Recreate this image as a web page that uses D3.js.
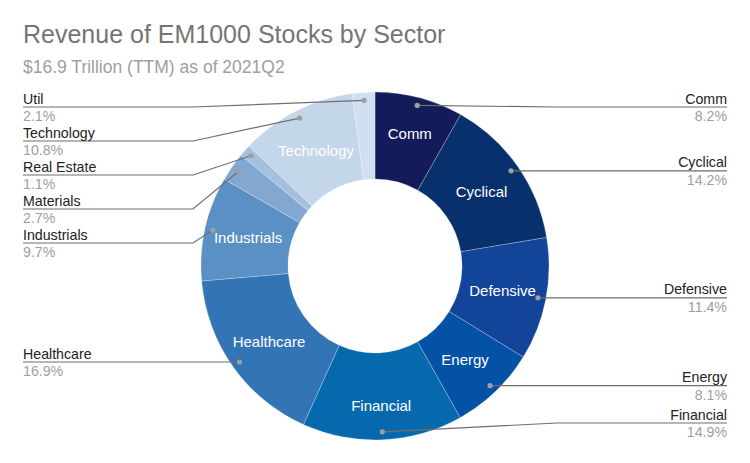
<!DOCTYPE html>
<html><head><meta charset="utf-8">
<script src="https://cdn.jsdelivr.net/npm/d3@7"></script>
<style>body{margin:0;background:#fff}svg{display:block;font-family:"Liberation Sans",Arial,sans-serif}</style>
</head><body><svg id="c" width="750" height="463"></svg>
<script>
const sectors = ["Comm","Cyclical","Defensive","Energy","Financial","Healthcare","Industrials","Materials","Real Estate","Technology","Util"];
const shares = [8.2,14.2,11.4,8.1,14.9,16.9,9.7,2.7,1.1,10.8,2.1];
const pctLabels = ["8.2%","14.2%","11.4%","8.1%","14.9%","16.9%","9.7%","2.7%","1.1%","10.8%","2.1%"];
const colors = ["#131b5b","#08306d","#12449a","#0452a6","#0769ad","#3274b4","#5b90c5","#82a8d2","#a5c0df","#c3d6ea","#d1dff0"];
const title = "Revenue of EM1000 Stocks by Sector";
const subtitle = "$16.9 Trillion (TTM) as of 2021Q2";

const svg = d3.select("#c");
const W = 750, H = 463;
svg.append("rect").attr("width",W).attr("height",H).attr("fill","#fff");
svg.append("text").attr("x",23).attr("y",43).attr("font-size",25).attr("fill","#757575").text(title);
svg.append("text").attr("x",23).attr("y",73).attr("font-size",17.5).attr("fill","#9e9e9e").text(subtitle);

const cx = 375, cy = 266, R = 174, r0 = 87;
const data = sectors.map((s,i)=>({name:s, v:shares[i], pct:pctLabels[i], color:colors[i]}));
const pie = d3.pie().value(d=>d.v).sort(null);
const arcs = pie(data);
const arc = d3.arc().innerRadius(r0).outerRadius(R);
const g = svg.append("g").attr("transform",`translate(${cx},${cy})`);
g.selectAll("path").data(arcs).join("path")
  .attr("d",arc).attr("fill",d=>d.data.color)
  .attr("stroke","#ffffff").attr("stroke-opacity",0.35).attr("stroke-width",0.7);

function labelPos(d){
  const a = (d.startAngle+d.endAngle)/2;
  const c = Math.abs(Math.cos(a));
  const rr = 130 + 10*Math.max(0,(c-0.9)/0.1);
  return [rr*Math.sin(a), -rr*Math.cos(a)];
}
g.selectAll("text.in").data(arcs.filter(d=>d.data.v>=5)).join("text")
  .attr("class","in")
  .attr("x",d=>labelPos(d)[0]).attr("y",d=>labelPos(d)[1])
  .attr("text-anchor","middle").attr("dominant-baseline","central")
  .attr("font-size",15).attr("fill","#fff").text(d=>d.data.name);

// leader lines
const dotR = 166;
const items = arcs.map(d=>{
  const a = (d.startAngle+d.endAngle)/2;
  return {d, a, x: cx + dotR*Math.sin(a), y: cy - dotR*Math.cos(a), right: a < Math.PI};
});
const minY = 107, maxY = 423, gap = 34;
function layout(list){
  list.sort((p,q)=>p.y-q.y);
  let prev = -Infinity;
  list.forEach(it=>{ it.ly = Math.max(it.y, prev+gap, minY); prev = it.ly; });
  let next = Infinity;
  for(let i=list.length-1;i>=0;i--){ const it=list[i]; it.ly = Math.min(it.ly, next-gap, maxY); next = it.ly; }
}
layout(items.filter(i=>i.right));
layout(items.filter(i=>!i.right));

const lg = svg.append("g");
items.forEach(it=>{
  const edge = it.right ? 727 : 23;
  const bend = it.right ? 557 : 193;
  lg.append("polyline")
    .attr("points",`${it.x},${it.y} ${bend},${it.ly} ${edge},${it.ly}`)
    .attr("fill","none").attr("stroke","#6e6e6e").attr("stroke-width",1.2);
  lg.append("circle").attr("cx",it.x).attr("cy",it.y).attr("r",2.6).attr("fill","#9e9e9e");
  lg.append("text").attr("x",edge).attr("y",it.ly-3.5)
    .attr("text-anchor",it.right?"end":"start").attr("font-size",14.2).attr("fill","#222")
    .text(it.d.data.name);
  lg.append("text").attr("x",edge).attr("y",it.ly+14.3)
    .attr("text-anchor",it.right?"end":"start").attr("font-size",14.2).attr("fill","#9e9e9e")
    .text(it.d.data.pct);
});
</script></body></html>
